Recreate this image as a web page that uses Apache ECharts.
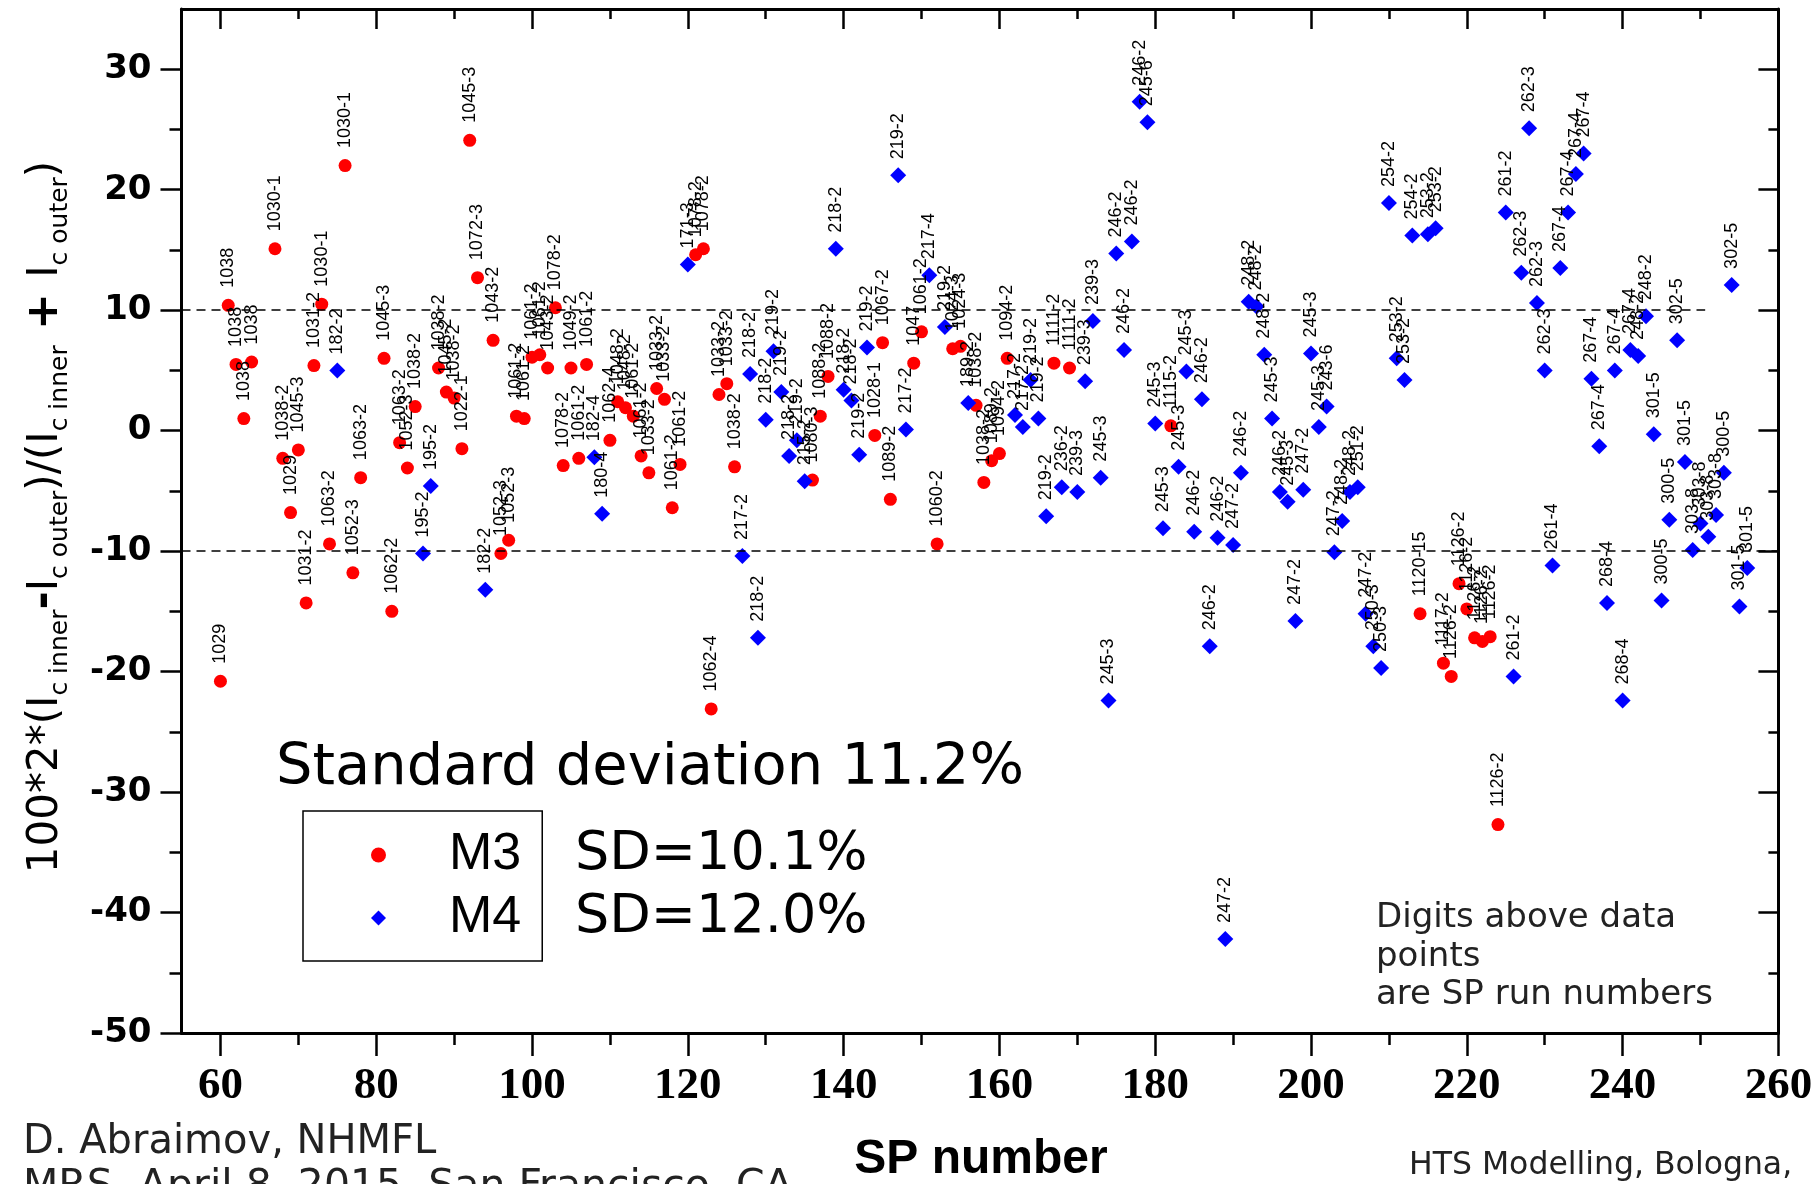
<!DOCTYPE html>
<html>
<head>
<meta charset="utf-8">
<title>Ic inner / outer asymmetry vs SP number</title>
<script src="https://cdn.jsdelivr.net/npm/echarts@6/dist/echarts.min.js"></script>
<style>
  html, body { margin: 0; padding: 0; background: #fff; }
  #chart { width: 1819px; height: 1184px; }
</style>
</head>
<body>
<div id="chart"></div>
<script>
// M3 runs (red circles)
var m3X = [60, 61, 62, 63, 64, 67, 68, 69, 70, 71, 72, 73, 74, 76, 77, 78, 81, 82, 83, 84, 85,
  88, 89, 90, 91, 92, 93, 95, 96, 97, 98, 99, 100, 101, 102, 103, 104, 105, 106, 107,
  110, 111, 112, 113, 114, 115, 116, 117, 118, 119, 121, 122, 123, 124, 125, 126,
  136, 137, 138, 144, 145, 146, 149, 150, 152, 154, 155, 157, 158, 159, 160, 161,
  167, 169, 182, 214, 217, 218, 219, 220, 221, 222, 223, 224];
var m3Y = [-20.8, 10.4, 5.5, 1.0, 5.7, 15.1, -2.3, -6.8, -1.6, -14.3, 5.4, 10.5, -9.4, 22.0, -11.8, -3.9, 6.0, -15.0, -1.0, -3.1, 2.0,
  5.2, 3.2, 2.7, -1.5, 24.1, 12.7, 7.5, -10.2, -9.1, 1.2, 1.0, 6.1, 6.3, 5.2, 10.2, -2.9, 5.2, -2.3, 5.5,
  -0.8, 2.4, 1.9, 1.2, -2.1, -3.5, 3.5, 2.6, -6.4, -2.8, 14.6, 15.1, -23.1, 3.0, 3.9, -3.0,
  -4.1, 1.2, 4.5, -0.4, 7.3, -5.7, 5.6, 8.2, -9.4, 6.8, 7.0, 2.1, -4.3, -2.5, -1.9, 6.0,
  5.6, 5.2, 0.4, -15.2, -19.3, -20.4, -12.7, -14.8, -17.2, -17.5, -17.1, -32.7];
var m3Run = ['1029', '1038', '1038', '1038', '1038', '1030-1', '1038-2', '1029', '1045-3', '1031-2', '1031-2', '1030-1', '1063-2',
  '1030-1', '1052-3', '1063-2', '1045-3', '1062-2', '1063-2', '1052-3', '1038-2',
  '1038-2', '1045-2', '1038-2', '1022-1', '1045-3', '1072-3', '1043-2', '1052-3', '1052-3', '1061-2', '1061-2', '1061-2', '1061-2',
  '1043-2', '1078-2', '1078-2', '1049-2', '1061-2', '1061-2',
  '1062-4', '1048-2', '1048-2', '1061-2', '1061-2', '1033-2', '1033-2', '1033-2', '1061-2', '1061-2',
  '1078-2', '1078-2', '1062-4', '1033-2', '1033-2', '1038-2',
  '1080-3', '1088-2', '1088-2', '1028-1', '1067-2', '1089-2', '1047', '1061-2', '1060-2', '1024-3', '1024-3',
  '1038-2', '1038-2', '1089-2', '1094-2', '1094-2', '1111-2', '1111-2', '1115-2', '1120-15',
  '1117-2', '1126-2', '1126-2', '1126-2', '1126-2', '1126-2', '1126-2', '1126-2'];

// M4 runs (blue diamonds)
var m4X = [75, 86, 87, 94, 108, 109, 120, 127, 128, 129, 130, 131, 132, 133, 134, 135, 139, 140, 141, 142, 143,
  147, 148, 151, 153, 156, 162, 163, 164, 165, 166, 168, 170, 171, 172, 173, 174, 175, 176, 177, 178, 179, 180, 181,
  183, 184, 185, 186, 187, 188, 189, 190, 191, 192, 193, 194, 195, 196, 197, 198, 199, 200, 201, 202, 203, 204, 205,
  206, 207, 208, 209, 210, 211, 212, 213, 215, 216,
  225, 226, 227, 228, 229, 230, 231, 232, 233, 234, 235, 236, 237, 238, 239, 240, 241, 242, 243, 244, 245, 246, 247,
  248, 249, 250, 251, 252, 253, 254, 255, 256];
var m4Y = [5.0, -10.2, -4.6, -13.2, -2.2, -6.9, 13.8, -10.4, 4.7, -17.2, 0.9, 6.6, 3.2, -2.1, -0.8, -4.2, 15.1, 3.4, 2.5, -2.0, 6.9,
  21.2, 0.1, 12.9, 8.6, 2.3, 1.3, 0.3, 4.2, 1.0, -7.1, -4.7, -5.1, 4.1, 9.1, -3.9, -22.4, 14.7, 6.7, 15.7, 27.3, 25.6, 0.6, -8.1,
  -3.0, 4.9, -8.4, 2.6, -17.9, -8.9, -42.2, -9.5, -3.5, 10.7, 10.3, 6.3, 1.0, -5.1, -5.9, -15.8, -4.9, 6.4, 0.3, 2.0, -10.1, -7.5, -5.1,
  -4.7, -15.2, -17.9, -19.7, 18.9, 6.0, 4.2, 16.2, 16.3, 16.8,
  18.1, -20.4, 13.1, 25.1, 10.6, 5.0, -11.2, 13.5, 18.1, 21.3, 23.0, 4.3, -1.3, -14.3, 5.0, -22.4, 6.7, 6.2, 9.5, -0.3, -14.1, -7.4, 7.5,
  -2.6, -9.9, -7.7, -8.8, -7.0, -3.5, 12.1, -14.6, -11.4];
var m4Run = ['182-2', '195-2', '195-2', '182-2', '182-4', '180-4', '171-3', '217-2', '218-2', '218-2', '218-2', '219-2', '219-2', '218-2',
  '219-2', '215-2', '218-2', '218-2', '218-2', '219-2', '219-2',
  '219-2', '217-2', '217-4', '219-2', '189-2', '217-2', '217-2', '219-2', '219-2', '219-2', '236-2', '239-3', '239-3', '239-3', '245-3',
  '245-3', '246-2', '246-2', '246-2', '246-2', '245-6', '245-3', '245-3',
  '245-3', '245-3', '246-2', '246-2', '246-2', '246-2', '247-2', '247-2', '246-2', '248-2', '248-2', '248-2', '245-3', '246-2', '245-3',
  '247-2', '247-2', '245-3', '245-3', '243-6', '247-2', '248-2', '248-2', '251-2', '247-2', '250-3', '250-3', '254-2', '253-2', '253-2',
  '254-2', '253-2', '253-2',
  '261-2', '261-2', '262-3', '262-3', '262-3', '262-3', '261-4', '267-4', '267-4', '267-4', '267-4', '267-4', '267-4', '268-4', '267-4',
  '268-4', '267-4', '248-2', '248-2', '301-5', '300-5', '300-5', '302-5', '301-5', '303-8', '303-8', '303-8', '303-8', '300-5', '302-5',
  '301-5', '301-5'];

// axis ticks
var xMajorTicks = [60, 80, 100, 120, 140, 160, 180, 200, 220, 240, 260];
var xMinorTicks = [70, 90, 110, 130, 150, 170, 190, 210, 230, 250];
var yMajorTicks = [-50, -40, -30, -20, -10, 0, 10, 20, 30];
var yMinorTicks = [-45, -35, -25, -15, -5, 5, 15, 25];

// dashed +-10% levels (upper one stops short of the frame)
var refLevels = [10, -10];
var refEnds = [250.6, 260];

var X_MIN = 55, X_MAX = 260, Y_MIN = -50, Y_MAX = 35;

function toPoints(xs, ys, runs) {
  var out = [];
  for (var i = 0; i < xs.length; i++) {
    out.push([xs[i], ys[i], runs[i]]);
  }
  return out;
}

var refData = [];
for (var i = 0; i < refLevels.length; i++) {
  refData.push([{ coord: [X_MIN, refLevels[i]] }, { coord: [refEnds[i], refLevels[i]] }]);
}

var frameLine = { show: true, onZero: false, lineStyle: { color: '#000', width: 3 } };
var noLine = { show: false, onZero: false };
var tickStyle = { color: '#000', width: 2.5 };

// one axis per tick set, all sharing the same range
function xAxisFor(pos, ticks, len, inside, line, label) {
  return {
    type: 'value', position: pos, min: X_MIN, max: X_MAX,
    axisLine: line ? frameLine : noLine,
    axisTick: { show: true, inside: inside, customValues: ticks, length: len, lineStyle: tickStyle },
    axisLabel: label || { show: false },
    splitLine: { show: false }
  };
}
function yAxisFor(pos, ticks, len, inside, line, label) {
  return {
    type: 'value', position: pos, min: Y_MIN, max: Y_MAX,
    axisLine: line ? frameLine : noLine,
    axisTick: { show: true, inside: inside, customValues: ticks, length: len, lineStyle: tickStyle },
    axisLabel: label || { show: false },
    splitLine: { show: false }
  };
}

var pointLabel = {
  show: true,
  position: 'top',
  rotate: 90,
  align: 'left',
  verticalAlign: 'middle',
  fontFamily: 'Liberation Sans',
  fontSize: 18,
  color: '#000',
  formatter: function (p) { return p.value[2]; }
};

var chart = echarts.init(document.getElementById('chart'), null, { renderer: 'canvas' });

var option = {
  animation: false,
  backgroundColor: '#fff',
  grid: {
    left: 181.5, right: 40.6, top: 9, bottom: 151,
    containLabel: false,
    outerBoundsMode: 'none'
  },
  legend: {
    orient: 'vertical',
    left: 303,
    top: 811,
    padding: [15, 21, 14, 68],
    itemWidth: 15,
    itemHeight: 15,
    itemGap: 5,
    borderColor: '#000',
    borderWidth: 1.5,
    selectedMode: false,
    textStyle: {
      fontFamily: 'Liberation Sans',
      fontSize: 52,
      lineHeight: 58,
      color: '#000',
      padding: [0, 0, 0, 58]
    },
    data: [
      { name: 'M3', icon: 'circle', itemStyle: { color: '#ff0000', opacity: 1 } },
      { name: 'M4', icon: 'diamond', itemStyle: { color: '#0000ff', opacity: 1 } }
    ]
  },
  xAxis: [
    xAxisFor('bottom', xMajorTicks, 23, false, true, {
      customValues: xMajorTicks, margin: 31, color: '#000',
      fontFamily: 'Liberation Sans Narrow', fontWeight: 'bold', fontSize: 45
    }),
    xAxisFor('bottom', xMinorTicks, 12, false, false),
    xAxisFor('top', xMajorTicks, 20, true, true),
    xAxisFor('top', xMinorTicks, 10, true, false)
  ],
  yAxis: [
    yAxisFor('left', yMajorTicks, 21, false, true, {
      customValues: yMajorTicks, margin: 30, color: '#000',
      fontFamily: 'DejaVu Sans', fontWeight: 'bold', fontSize: 34
    }),
    yAxisFor('left', yMinorTicks, 12, false, false),
    yAxisFor('right', yMajorTicks, 20, true, true),
    yAxisFor('right', yMinorTicks, 10, true, false)
  ],
  series: [
    {
      name: 'M3',
      type: 'scatter',
      xAxisIndex: 0,
      yAxisIndex: 0,
      symbol: 'circle',
      symbolSize: 13,
      itemStyle: { color: '#ff0000', opacity: 1 },
      label: Object.assign({}, pointLabel, { distance: 11 }),
      data: toPoints(m3X, m3Y, m3Run),
      markLine: {
        silent: true,
        symbol: 'none',
        label: { show: false },
        lineStyle: { color: '#000', type: [9, 6], width: 1.5 },
        data: refData
      },
      z: 3
    },
    {
      name: 'M4',
      type: 'scatter',
      xAxisIndex: 0,
      yAxisIndex: 0,
      symbol: 'diamond',
      symbolSize: 16,
      itemStyle: { color: '#0000ff', opacity: 1 },
      label: Object.assign({}, pointLabel, { distance: 8 }),
      data: toPoints(m4X, m4Y, m4Run),
      z: 3
    }
  ],
  graphic: [
    {
      type: 'text', x: 46, y: 517, rotation: Math.PI / 2,
      style: {
        text: '{m|100*2*(I}{s|c inner}{b|-}{m|I}{s|c outer}{m|)/(I}{s|c inner}{b| + }{m|I}{s|c outer}{m|)}',
        align: 'center', verticalAlign: 'middle',
        rich: {
          m: { fontFamily: 'DejaVu Sans', fontSize: 42, lineHeight: 54, fill: '#000' },
          b: { fontFamily: 'DejaVu Sans', fontWeight: 'bold', fontSize: 44, lineHeight: 54, fill: '#000' },
          s: { fontFamily: 'DejaVu Sans', fontSize: 25, lineHeight: 26, verticalAlign: 'bottom', fill: '#000' }
        }
      }
    },
    {
      type: 'text', x: 276, y: 769,
      style: { text: 'Standard deviation 11.2%', fontFamily: 'DejaVu Sans', fontSize: 57.5, fill: '#000', verticalAlign: 'middle' }
    },
    {
      type: 'text', x: 575, y: 855,
      style: { text: 'SD=10.1%', fontFamily: 'DejaVu Sans', fontSize: 54, fill: '#000', verticalAlign: 'middle' }
    },
    {
      type: 'text', x: 575, y: 918,
      style: { text: 'SD=12.0%', fontFamily: 'DejaVu Sans', fontSize: 54, fill: '#000', verticalAlign: 'middle' }
    },
    {
      type: 'text', x: 1376, y: 899,
      style: {
        text: 'Digits above data\npoints\nare SP run numbers',
        fontFamily: 'DejaVu Sans', fontSize: 34, lineHeight: 38.5, fill: '#222', verticalAlign: 'top'
      }
    },
    {
      type: 'text', x: 981, y: 1160,
      style: { text: 'SP number', fontFamily: 'Liberation Sans', fontWeight: 'bold', fontSize: 48, fill: '#000', align: 'center', verticalAlign: 'middle' }
    },
    {
      type: 'text', x: 23, y: 1143,
      style: { text: 'D. Abraimov, NHMFL', fontFamily: 'DejaVu Sans', fontSize: 40, fill: '#222', verticalAlign: 'middle' }
    },
    {
      type: 'text', x: 23, y: 1187,
      style: { text: 'MRS, April 8, 2015, San Francisco, CA', fontFamily: 'DejaVu Sans', fontSize: 41, fill: '#222', verticalAlign: 'middle' }
    },
    {
      type: 'text', x: 1409, y: 1166,
      style: { text: 'HTS Modelling, Bologna,', fontFamily: 'DejaVu Sans', fontSize: 31.5, fill: '#222', verticalAlign: 'middle' }
    }
  ]
};

chart.setOption(option);
</script>
</body>
</html>
